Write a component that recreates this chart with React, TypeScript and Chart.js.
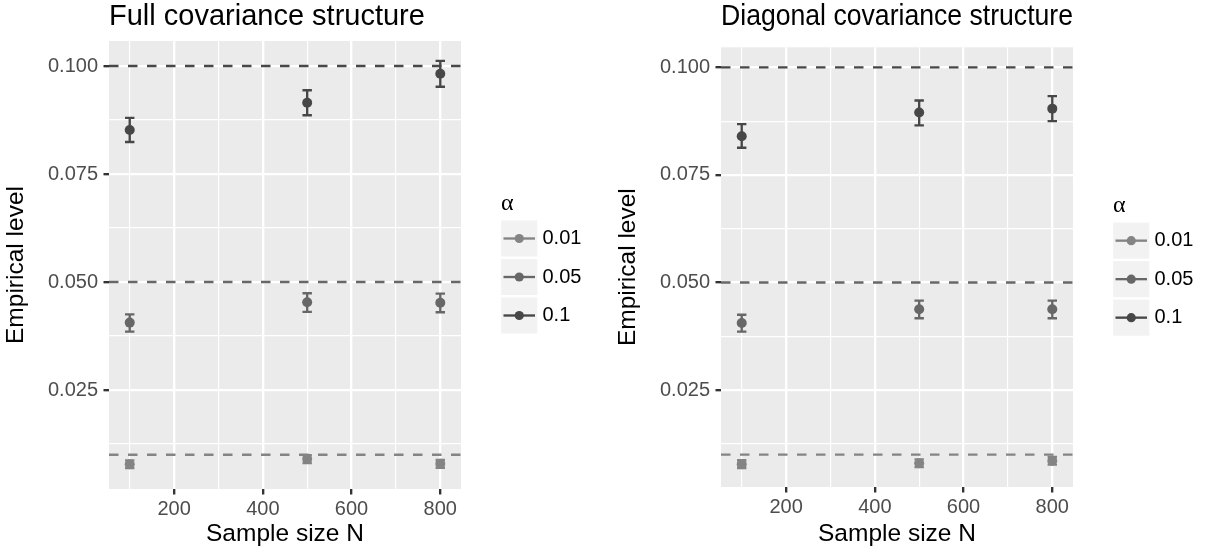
import React, { useEffect, useRef } from 'react';
import { Chart, registerables } from 'chart.js';

Chart.register(...registerables);

// ---------------- data ----------------
const SAMPLE_SIZES = [100, 500, 800];
const ALPHA_LABELS = ['0.01', '0.05', '0.1'];
const ALPHA_LEVELS = [0.01, 0.05, 0.1];

const X_MAJOR_TICKS = [200, 400, 600, 800];
const X_GRID_TICKS = [100, 200, 300, 400, 500, 600, 700, 800];
const Y_MAJOR_TICKS = [0.025, 0.05, 0.075, 0.1];
const Y_GRID_TICKS = [0.0125, 0.025, 0.0375, 0.05, 0.0625, 0.075, 0.0875, 0.1];
const X_LIMITS = [53.3, 846.7];
const FULL_Y_LIMITS = [0.00208, 0.10579];
const DIAG_Y_LIMITS = [0.00249, 0.10465];

// Full covariance structure
const FULL_MEAN_001 = [0.0078, 0.009, 0.0079];
const FULL_LOW_001 = [0.0069, 0.0081, 0.007];
const FULL_HIGH_001 = [0.0087, 0.0099, 0.0088];
const FULL_MEAN_005 = [0.0406, 0.0453, 0.0452];
const FULL_LOW_005 = [0.0385, 0.0431, 0.043];
const FULL_HIGH_005 = [0.0425, 0.0474, 0.0473];
const FULL_MEAN_01 = [0.0852, 0.0915, 0.0982];
const FULL_LOW_01 = [0.0824, 0.0886, 0.0952];
const FULL_HIGH_01 = [0.088, 0.0944, 0.1012];

// Diagonal covariance structure
const DIAG_MEAN_001 = [0.0078, 0.008, 0.0086];
const DIAG_LOW_001 = [0.0069, 0.0071, 0.0077];
const DIAG_HIGH_001 = [0.0087, 0.0089, 0.0095];
const DIAG_MEAN_005 = [0.0406, 0.0438, 0.0438];
const DIAG_LOW_005 = [0.0386, 0.0417, 0.0417];
const DIAG_HIGH_005 = [0.0425, 0.0458, 0.0458];
const DIAG_MEAN_01 = [0.084, 0.0895, 0.0904];
const DIAG_LOW_01 = [0.0813, 0.0865, 0.0875];
const DIAG_HIGH_01 = [0.0868, 0.0923, 0.0933];

const FULL_TITLE = 'Full covariance structure';
const DIAG_TITLE = 'Diagonal covariance structure';
const X_TITLE = 'Sample size N';
const Y_TITLE = 'Empirical level';
const LEGEND_TITLE = 'α';

// ---------------- styles ----------------
const ALPHA_COLORS = ['#848484', '#676767', '#474747'];
const FONT = "'Liberation Sans', Arial, Helvetica, sans-serif";
const LINE_W = 2.35;
const ERR_HALF_WIDTH = 10.6; // data units
const H = 552;

const isMajor = (list: number[], v: any) =>
  typeof v === 'number' && list.some((t) => Math.abs(t - v) < 1e-9);

type PanelProps = {
  title: string;
  means: number[][];
  lows: number[][];
  highs: number[][];
  yLimits: number[];
  left: number;
  width: number;
  plotTop: number;
  plotBottom: number;
  plotLeft: number;
  plotRight: number;
};

function Panel(props: PanelProps) {
  const ref = useRef<HTMLCanvasElement>(null);

  useEffect(() => {
    const canvas = ref.current;
    if (!canvas) return;

    const datasets = ALPHA_LABELS.map((lab, i) => ({
      label: lab,
      data: SAMPLE_SIZES.map((n, j) => ({ x: n, y: props.means[i][j] })),
      backgroundColor: ALPHA_COLORS[i],
      borderColor: ALPHA_COLORS[i],
      pointRadius: 5,
      pointHoverRadius: 5,
      pointBorderWidth: 0,
    }));

    const bgPlugin = {
      id: 'panelBg',
      beforeDraw(chart: any) {
        const { ctx, chartArea: a } = chart;
        ctx.save();
        ctx.fillStyle = '#EBEBEB';
        ctx.fillRect(a.left, a.top, a.right - a.left, a.bottom - a.top);
        ctx.restore();
      },
    };

    const overlayPlugin = {
      id: 'hlinesErrorbars',
      beforeDatasetsDraw(chart: any) {
        const { ctx, chartArea: a } = chart;
        const xs = chart.scales.x;
        const ys = chart.scales.y;
        ctx.save();
        ctx.beginPath();
        ctx.rect(a.left, a.top, a.right - a.left, a.bottom - a.top);
        ctx.clip();
        ALPHA_LEVELS.forEach((lvl, i) => {
          const y = ys.getPixelForValue(lvl);
          ctx.beginPath();
          ctx.setLineDash([9.5, 9.5]);
          ctx.lineDashOffset = 0;
          ctx.strokeStyle = ALPHA_COLORS[i];
          ctx.lineWidth = LINE_W;
          ctx.moveTo(a.left, y);
          ctx.lineTo(a.right, y);
          ctx.stroke();
        });
        ctx.setLineDash([]);
        ALPHA_LABELS.forEach((_, i) => {
          SAMPLE_SIZES.forEach((n, j) => {
            const x = xs.getPixelForValue(n);
            const xl = xs.getPixelForValue(n - ERR_HALF_WIDTH);
            const xr = xs.getPixelForValue(n + ERR_HALF_WIDTH);
            const yl = ys.getPixelForValue(props.lows[i][j]);
            const yh = ys.getPixelForValue(props.highs[i][j]);
            ctx.beginPath();
            ctx.strokeStyle = ALPHA_COLORS[i];
            ctx.lineWidth = LINE_W;
            ctx.lineCap = 'butt';
            ctx.moveTo(xl, yh);
            ctx.lineTo(xr, yh);
            ctx.moveTo(x, yh);
            ctx.lineTo(x, yl);
            ctx.moveTo(xl, yl);
            ctx.lineTo(xr, yl);
            ctx.stroke();
          });
        });
        ctx.restore();
      },
    };

    const legendPlugin = {
      id: 'ggLegend',
      afterDraw(chart: any) {
        const { ctx, chartArea: a } = chart;
        const pitch = 38.5;
        const keyLeft = a.right + 39;
        const center = (a.top + a.bottom) / 2 + 12;
        const keysTop = center - pitch * 1.5;
        ctx.save();
        ctx.fillStyle = '#000000';
        ctx.font = "24px 'Liberation Serif', 'DejaVu Serif', serif";
        ctx.textAlign = 'left';
        ctx.textBaseline = 'alphabetic';
        ctx.fillText(LEGEND_TITLE, keyLeft + 1, keysTop - 9.5);
        ALPHA_LABELS.forEach((lab, i) => {
          const top = keysTop + i * pitch;
          const cy = top + pitch / 2;
          const cx = keyLeft + pitch / 2;
          ctx.fillStyle = '#F2F2F2';
          ctx.fillRect(keyLeft + 1.2, top + 1.2, pitch - 2.4, pitch - 2.4);
          ctx.beginPath();
          ctx.strokeStyle = ALPHA_COLORS[i];
          ctx.lineWidth = LINE_W;
          ctx.moveTo(keyLeft + 3.5, cy);
          ctx.lineTo(keyLeft + pitch - 3.5, cy);
          ctx.stroke();
          ctx.beginPath();
          ctx.fillStyle = ALPHA_COLORS[i];
          ctx.arc(cx, cy, 4.6, 0, Math.PI * 2);
          ctx.fill();
          ctx.fillStyle = '#000000';
          ctx.font = `20px ${FONT}`;
          ctx.textBaseline = 'middle';
          ctx.fillText(lab, keyLeft + pitch + 4, cy);
          ctx.textBaseline = 'alphabetic';
        });
        ctx.restore();
      },
    };

    const chart = new Chart(canvas, {
      type: 'scatter',
      data: { datasets },
      options: {
        responsive: false,
        animation: false,
        events: [],
        layout: {
          padding: { left: 0, top: 0, bottom: 0, right: props.width - props.plotRight },
        },
        plugins: {
          legend: { display: false },
          tooltip: { enabled: false },
          title: {
            display: true,
            text: props.title,
            align: 'start',
            fullSize: false,
            color: '#000000',
            font: { family: FONT, size: 29, weight: 'normal' },
            padding: { top: 0, bottom: props.plotTop - 34.8 },
          },
        },
        scales: {
          x: {
            type: 'linear',
            min: X_LIMITS[0],
            max: X_LIMITS[1],
            afterBuildTicks: (s: any) => {
              s.ticks = X_GRID_TICKS.map((v) => ({ value: v }));
            },
            afterFit: (s: any) => {
              s.height = H - props.plotBottom;
            },
            border: { display: false },
            grid: {
              color: '#FFFFFF',
              lineWidth: (c: any) => (isMajor(X_MAJOR_TICKS, c.tick?.value) ? LINE_W : LINE_W / 2),
              drawTicks: true,
              tickLength: 5.5,
              tickColor: (c: any) => (isMajor(X_MAJOR_TICKS, c.tick?.value) ? '#333333' : 'rgba(0,0,0,0)'),
              tickWidth: (c: any) => (isMajor(X_MAJOR_TICKS, c.tick?.value) ? LINE_W : 0),
            },
            ticks: {
              autoSkip: false,
              maxRotation: 0,
              minRotation: 0,
              padding: 3,
              color: '#4D4D4D',
              font: { family: FONT, size: 20 },
              callback: (v: any) => (isMajor(X_MAJOR_TICKS, Number(v)) ? String(v) : ''),
            },
            title: {
              display: true,
              text: X_TITLE,
              color: '#000000',
              font: { family: FONT, size: 24.5 },
              padding: { top: 0, bottom: 3.3 },
            },
          },
          y: {
            type: 'linear',
            min: props.yLimits[0],
            max: props.yLimits[1],
            afterBuildTicks: (s: any) => {
              s.ticks = Y_GRID_TICKS.map((v) => ({ value: v }));
            },
            afterFit: (s: any) => {
              s.width = props.plotLeft;
            },
            border: { display: false },
            grid: {
              color: '#FFFFFF',
              lineWidth: (c: any) => (isMajor(Y_MAJOR_TICKS, c.tick?.value) ? LINE_W : LINE_W / 2),
              drawTicks: true,
              tickLength: 5.5,
              tickColor: (c: any) => (isMajor(Y_MAJOR_TICKS, c.tick?.value) ? '#333333' : 'rgba(0,0,0,0)'),
              tickWidth: (c: any) => (isMajor(Y_MAJOR_TICKS, c.tick?.value) ? LINE_W : 0),
            },
            ticks: {
              autoSkip: false,
              padding: 5.5,
              color: '#4D4D4D',
              font: { family: FONT, size: 20 },
              callback: (v: any) => (isMajor(Y_MAJOR_TICKS, Number(v)) ? Number(v).toFixed(3) : ''),
            },
            title: {
              display: true,
              text: Y_TITLE,
              color: '#000000',
              font: { family: FONT, size: 24.5 },
              padding: { top: 1.7, bottom: 0 },
            },
          },
        },
      } as any,
      plugins: [bgPlugin, overlayPlugin, legendPlugin],
    });

    return () => chart.destroy();
  }, []);

  return (
    <canvas
      ref={ref}
      width={props.width}
      height={H}
      style={{ position: 'absolute', left: props.left, top: 0, width: props.width, height: H }}
    />
  );
}

export default function App() {
  return (
    <div style={{ position: 'absolute', left: 0, top: 0, width: 1215, height: H, background: '#FFFFFF' }}>
      <Panel
        title={FULL_TITLE}
        means={[FULL_MEAN_001, FULL_MEAN_005, FULL_MEAN_01]}
        lows={[FULL_LOW_001, FULL_LOW_005, FULL_LOW_01]}
        highs={[FULL_HIGH_001, FULL_HIGH_005, FULL_HIGH_01]}
        yLimits={FULL_Y_LIMITS}
        left={0}
        width={607}
        plotTop={41}
        plotBottom={489}
        plotLeft={109}
        plotRight={461}
      />
      <Panel
        title={DIAG_TITLE}
        means={[DIAG_MEAN_001, DIAG_MEAN_005, DIAG_MEAN_01]}
        lows={[DIAG_LOW_001, DIAG_LOW_005, DIAG_LOW_01]}
        highs={[DIAG_HIGH_001, DIAG_HIGH_005, DIAG_HIGH_01]}
        yLimits={DIAG_Y_LIMITS}
        left={612}
        width={603}
        plotTop={47.3}
        plotBottom={487}
        plotLeft={109}
        plotRight={461}
      />
    </div>
  );
}
